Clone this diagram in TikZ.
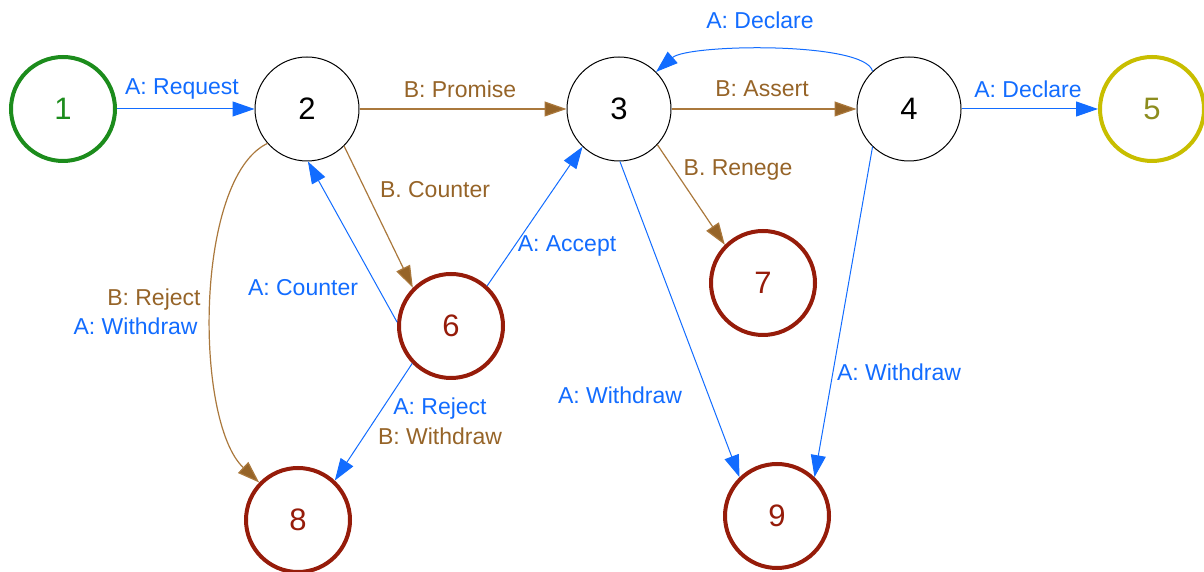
\documentclass[tikz,border=0pt]{standalone}
\usepackage{fontspec}
\setmainfont{Liberation Sans}
\usetikzlibrary{arrows.meta}
\definecolor{actA}{RGB}{18,108,255}
\definecolor{actB}{RGB}{150,100,40}
\definecolor{lineB}{RGB}{170,120,60}
\definecolor{okgreen}{RGB}{28,140,28}
\definecolor{donering}{RGB}{200,190,0}
\definecolor{donetext}{RGB}{140,140,30}
\definecolor{failred}{RGB}{150,28,10}
\tikzset{
  state/.style={circle, minimum size=52pt, inner sep=0pt, fill=white,
    font=\fontsize{15.5}{18}\selectfont},
  plain/.style={state, draw=black, line width=0.5pt, text=black},
  startst/.style={state, draw=okgreen, line width=2pt, text=okgreen},
  donest/.style={state, draw=donering, line width=2pt, text=donetext},
  failst/.style={state, draw=failred, line width=2pt, text=failred},
  edgeA/.style={draw=actA, line width=0.5pt, -{Triangle[length=11pt,width=7.5pt]}},
  edgeB/.style={draw=lineB, line width=0.6pt, -{Triangle[length=11pt,width=7.5pt,fill=actB]}},
  lbl/.style={font=\fontsize{11.5}{14}\selectfont, inner sep=0pt},
  lblA/.style={lbl, text=actA},
  lblB/.style={lbl, text=actB}
}
\begin{document}
\begin{tikzpicture}[x=0.5pt, y=0.5pt]
\useasboundingbox (0,0) rectangle (1204,572);

% states
\node[startst] (s1) at (63,463) {1};
\node[plain]   (s2) at (307,463) {2};
\node[plain]   (s3) at (619,463) {3};
\node[plain]   (s4) at (909,463) {4};
\node[donest]  (s5) at (1152,463) {5};
\node[failst]  (s6) at (451,246) {6};
\node[failst]  (s7) at (763,289) {7};
\node[failst]  (s8) at (298,52) {8};
\node[failst]  (s9) at (777,56) {9};

% transitions
\draw[edgeA] (s1) -- (s2);
\draw[edgeB] (s2) -- (s3);
\draw[edgeB] (s3) -- (s4);
\draw[edgeA] (s4) -- (s5);
\draw[edgeA] (s4.134) .. controls +(-7,30) and +(32,28) .. (s3.45);
\draw[edgeB] (s2.221) .. controls +(-73,-35) and +(-65,61) .. (s8.136);
\draw[edgeB] (s2.-45) -- (s6.135);
\draw[edgeA] (s6.176) -- (s2.-89);
\draw[edgeA] (s6.48) -- (s3.226);
\draw[edgeA] (s6.224) -- (s8.47);
\draw[edgeB] (s3.-43) -- (s7.135);
\draw[edgeA] (s3.-89) -- (s9.134);
\draw[edgeA] (s4.226) -- (s9.46);

% transition labels
\node[lblA] (tRequest) at (182,483) {A: Request};
\node[lblB] (tPromise) at (460,483) {B: Promise};
\node[lblB] (tAssert) at (762,483) {B: Assert};
\node[lblA] (tDeclare) at (1028,483) {A: Declare};
\node[lblA] (tDeclareBack) at (760,552) {A: Declare};
\node[lblB] (tCounterB) at (435,382) {B. Counter};
\node[lblB] (tRenege) at (738,402) {B. Renege};
\node[lblA] (tAccept) at (567,326) {A: Accept};
\node[lblA] (tCounterA) at (303,284) {A: Counter};
\node[lblB, anchor=east] (tRejectB) at (201,272) {B: Reject};
\node[lblA, anchor=east] (tWithdrawA) at (198,246) {A: Withdraw};
\node[lblA] (tRejectA) at (440,163) {A: Reject};
\node[lblB] (tWithdrawB) at (440,136) {B: Withdraw};
\node[lblA] (tWithdraw3) at (620,177) {A: Withdraw};
\node[lblA] (tWithdraw4) at (899,200) {A: Withdraw};
\end{tikzpicture}
\end{document}
